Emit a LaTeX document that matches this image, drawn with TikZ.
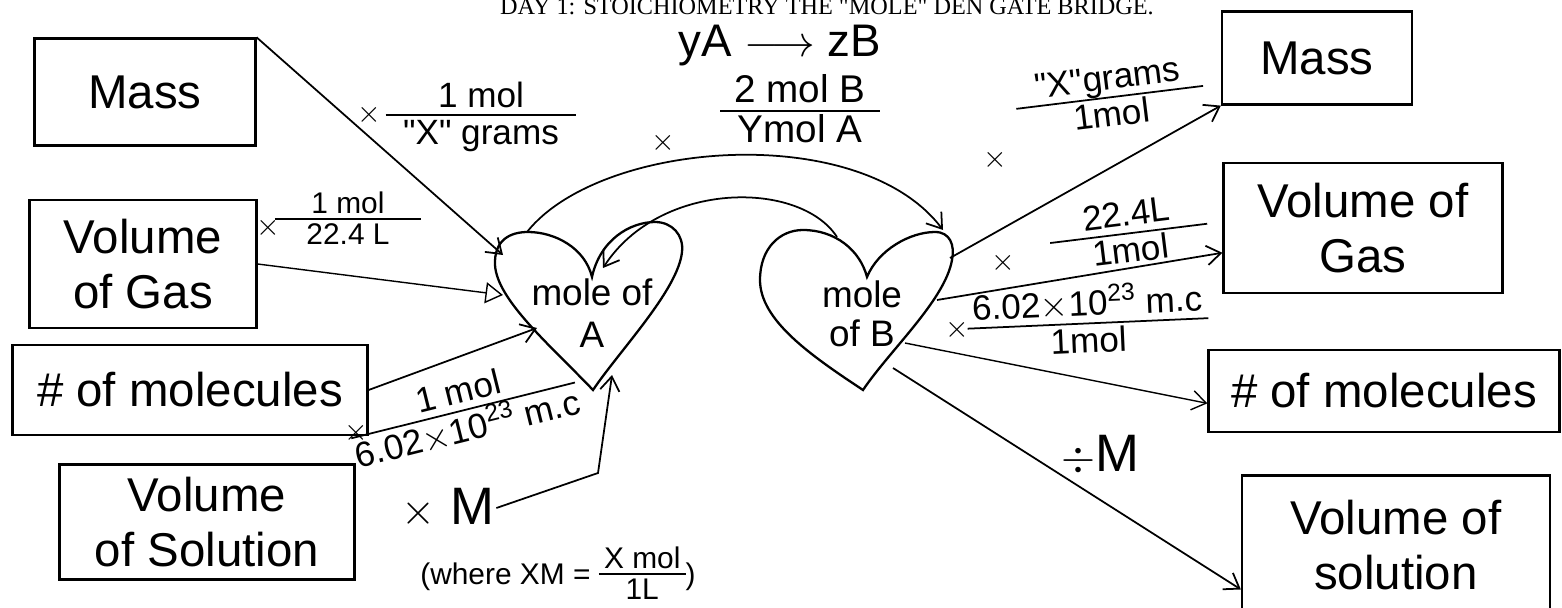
\documentclass[tikz,border=0pt]{standalone}
\usepackage{fontspec}
\setmainfont{Liberation Sans}
\newfontfamily\titlefont{Liberation Serif}
\usetikzlibrary{arrows.meta,positioning}

\setlength{\arrayrulewidth}{1pt}
\newcommand{\hfrac}[3][5pt]{\begin{tabular}{@{\hspace{#1}}c@{\hspace{#1}}}#2\\[-3pt]\hline #3\end{tabular}}
\newcommand{\qq}{\textquotedbl}

\tikzset{
    box/.style={draw,line width=1.3pt,inner sep=0pt,align=center,font=\fontsize{27}{31}\selectfont},
    hand/.style={inner sep=1pt,font=\fontsize{20}{23}\selectfont},
    xsign/.style={inner sep=0pt,font=\fontsize{19}{19}\selectfont},
    conv/.style={->,line width=1pt},
}

\begin{document}
\begin{tikzpicture}[x=0.02cm,y=-0.02cm,>={Straight Barb[length=8pt,width=11pt]}]
    \useasboundingbox (0,0) rectangle (1562,608);
    \node[anchor=base,inner sep=0pt,font=\titlefont\fontsize{13.8}{15}\selectfont] (title) at (827,15)
        {DAY 1: STOICHIOMETRY THE \qq MOLE\qq\ DEN GATE BRIDGE.};
    \node[hand,font=\fontsize{26}{28}\selectfont] (react) at (780,46) {yA $\longrightarrow$ zB};

    \node[box,minimum width=4.42cm,minimum height=2.14cm] (massL) at (145,92) {Mass};
    \node[box,minimum width=4.54cm,minimum height=2.56cm] (volL) at (143,264) {Volume\\of Gas};
    \node[box,minimum width=7.1cm,minimum height=1.8cm] (molL) at (190,390) {\# of molecules};
    \node[box,minimum width=5.9cm,minimum height=2.3cm] (solL) at (207,522) {Volume\\of Solution};
    \node[box,minimum width=3.8cm,minimum height=1.86cm] (massR) at (1317,58) {Mass};
    \node[box,minimum width=5.58cm,minimum height=2.6cm] (gasR) at (1363,228) {Volume of\\Gas};
    \node[box,minimum width=7.02cm,minimum height=1.64cm] (molR) at (1384,391) {\# of molecules};
    \node[box,minimum width=6.16cm,minimum height=2.78cm] (solR) at (1396,545) {Volume of\\solution};

    \draw[line width=1.3pt] (593,390) .. controls (550,345) and (497,300) .. (495,265)
        .. controls (494,240) and (510,232) .. (528,232) .. controls (555,232) and (585,248) .. (592,277)
        .. controls (600,240) and (630,222) .. (655,222) .. controls (672,222) and (684,235) .. (682,252)
        .. controls (678,290) and (620,350) .. (593,390) -- cycle;
    \draw[line width=1.3pt] (863,390) .. controls (810,355) and (760,320) .. (760,280)
        .. controls (760,248) and (780,230) .. (803,230) .. controls (835,230) and (860,250) .. (867,277)
        .. controls (878,250) and (910,232) .. (935,232) .. controls (950,232) and (955,245) .. (952,260)
        .. controls (945,300) and (890,350) .. (863,390) -- cycle;
    \node[hand,font=\fontsize{21}{24}\selectfont,align=center] (moleA) at (592,313) {mole of\\A};
    \node[hand,font=\fontsize{21}{22}\selectfont,align=center] (moleB) at (862,314) {mole\\of B};

    \coordinate (aMass) at (503,255);
    \coordinate (aGas) at (503,295);
    \coordinate (aMol) at (537,328);
    \coordinate (aSol) at (612,375);
    \coordinate (aTop) at (527,232);
    \coordinate (aIn) at (603,268);
    \coordinate (bOut) at (943,230);
    \coordinate (bIn) at (837,237);
    \coordinate (bMass) at (950,258);
    \coordinate (bGas) at (937,300);
    \coordinate (bMol) at (905,343);
    \coordinate (bSol) at (893,368);
    \coordinate (solBend) at (598,473);

    \node[hand] (fMassL) at (481,118) {\hfrac[10pt]{1 mol}{\qq X\qq\ grams}};
    \node[hand,font=\fontsize{22}{25}\selectfont] (fRatio) at (800,114) {\hfrac[8pt]{2 mol B}{Ymol A}};
    \node[hand,font=\fontsize{17}{20}\selectfont] (fGasL) at (348,222) {\hfrac[18pt]{1 mol}{22.4 L}};
    \node[hand,rotate=14] (fMolL) at (464,414) {\hfrac[0pt]{1 mol}{6.02$\times$10\textsuperscript{23} m.c}};
    \node[hand,rotate=7] (fMassR) at (1110,100) {\hfrac[12pt]{\qq X\qq grams}{1mol}};
    \node[hand,rotate=7] (fGasR) at (1129,236) {\hfrac[20pt]{22.4L}{1mol}};
    \node[hand,rotate=2.5] (fMolR) at (1088,325) {\hfrac[3pt]{6.02$\times$10\textsuperscript{23} m.c}{1mol}};
    \node[hand,font=\fontsize{30}{32}\selectfont] (xM) at (448,508) {$\times$ M};
    \node[hand,font=\fontsize{30}{32}\selectfont] (divM) at (1100,455) {$\div$M};
    \node[hand,font=\fontsize{17}{20}\selectfont] (where) at (558,577) {(where XM = \hfrac[3pt]{X mol}{1L})};
    \foreach \x/\y [count=\i] in {369/115, 663/143, 268/228, 356/433, 995/160, 1003/263, 957/330}
        \node[xsign] (x\i) at (\x,\y) {$\times$};

    \draw[conv] (massL.north east) -- (aMass);
    \draw[-{Triangle[open,length=10pt,width=12pt]},line width=0.8pt] (volL.east) -- (aGas);
    \draw[conv] (molL.east) -- (aMol);
    \draw[conv] (xM.east) -- (solBend) -- (aSol);
    \draw[conv] (aTop) .. controls (600,140) and (860,120) .. (bOut);
    \draw[conv] (bIn) .. controls (800,180) and (660,180) .. (aIn);
    \draw[conv] (bMass) -- (massR.south west);
    \draw[conv] (bGas) -- (gasR.190);
    \draw[conv,line width=0.8pt] (bMol) -- (molR.184);
    \draw[conv] (bSol) -- (solR.196);
\end{tikzpicture}
\end{document}
